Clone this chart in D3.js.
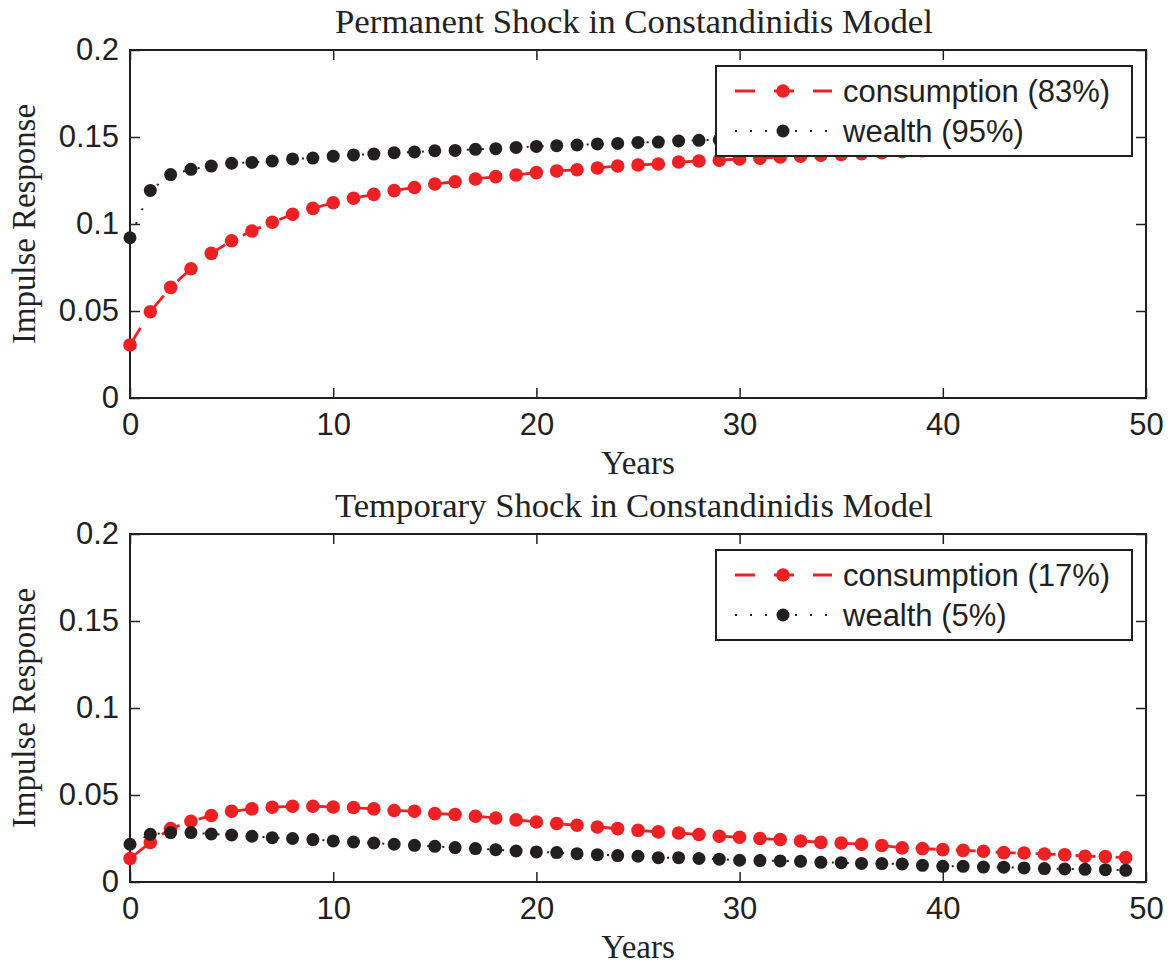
<!DOCTYPE html>
<html>
<head>
<meta charset="utf-8">
<script src="https://cdn.jsdelivr.net/npm/d3@7/dist/d3.min.js"></script>
<style>
  html, body { margin: 0; padding: 0; background: #fff; }
  svg { display: block; }
</style>
</head>
<body>
<script>
// ---------------- DATA ----------------
const years = [0,1,2,3,4,5,6,7,8,9,10,11,12,13,14,15,16,17,18,19,20,21,22,23,24,25,26,27,28,29,30,31,32,33,34,35,36,37,38,39,40,41,42,43,44,45,46,47,48,49];

const permConsumption = [0.0305,0.0496,0.0636,0.0743,0.0831,0.0904,0.0960,0.1010,0.1056,0.1090,
  0.1122,0.1148,0.1170,0.1192,0.1210,0.1230,0.1243,0.1259,0.1272,0.1282,
  0.1295,0.1305,0.1312,0.1322,0.1333,0.1339,0.1345,0.1356,0.1362,0.1367,
  0.1374,0.1378,0.1385,0.1390,0.1395,0.1400,0.1404,0.1410,0.1416,0.1421,
  0.1427,0.1432,0.1438,0.1443,0.1449,0.1454,0.1460,0.1465,0.1470,0.1475];

const permWealth = [0.0921,0.1193,0.1284,0.1314,0.1333,0.1349,0.1354,0.1362,0.1374,0.1379,
  0.1390,0.1397,0.1402,0.1410,0.1414,0.1421,0.1423,0.1429,0.1433,0.1440,
  0.1446,0.1450,0.1454,0.1460,0.1463,0.1469,0.1471,0.1477,0.1481,0.1484,
  0.1487,0.1490,0.1493,0.1496,0.1499,0.1502,0.1504,0.1507,0.1509,0.1511,
  0.1513,0.1515,0.1517,0.1519,0.1521,0.1523,0.1525,0.1527,0.1529,0.1531];

const tempConsumption = [0.0135,0.0227,0.0307,0.0349,0.0382,0.0407,0.0420,0.0430,0.0435,0.0435,
  0.0431,0.0428,0.0420,0.0411,0.0407,0.0393,0.0388,0.0378,0.0368,0.0357,
  0.0345,0.0336,0.0326,0.0316,0.0307,0.0297,0.0288,0.0282,0.0273,0.0263,
  0.0257,0.0250,0.0244,0.0236,0.0228,0.0224,0.0217,0.0210,0.0196,0.0192,
  0.0186,0.0182,0.0177,0.0169,0.0167,0.0161,0.0157,0.0148,0.0146,0.0140];

const tempWealth = [0.0217,0.0274,0.0284,0.0284,0.0276,0.0270,0.0263,0.0255,0.0250,0.0244,
  0.0236,0.0230,0.0224,0.0217,0.0211,0.0205,0.0198,0.0192,0.0186,0.0178,
  0.0173,0.0169,0.0163,0.0157,0.0152,0.0148,0.0140,0.0140,0.0135,0.0131,
  0.0125,0.0123,0.0121,0.0119,0.0113,0.0111,0.0107,0.0106,0.0104,0.0096,
  0.0090,0.0090,0.0086,0.0085,0.0081,0.0077,0.0075,0.0073,0.0071,0.0067];

const xTicks = [0,10,20,30,40,50];
const xTickLabels = ["0","10","20","30","40","50"];
const yTicks = [0,0.05,0.1,0.15,0.2];
const yTickLabels = ["0","0.05","0.1","0.15","0.2"];

const panelTitles = ["Permanent Shock in Constandinidis Model", "Temporary Shock in Constandinidis Model"];
const xLabel = "Years";
const yLabel = "Impulse Response";
const permLegend = ["consumption (83%)", "wealth (95%)"];
const tempLegend = ["consumption (17%)", "wealth (5%)"];

// ---------------- STYLE / LAYOUT ----------------
const W = 1172, H = 964;
const RED = "#ed2024", BLACK = "#231f20", AXIS = "#231f20";
const SANS = "'Liberation Sans', Arial, Helvetica, sans-serif";
const SERIF = "'Liberation Serif', 'Times New Roman', serif";

const svg = d3.select("body").append("svg").attr("width", W).attr("height", H);

const panels = [
  { top: 50, bottom: 398, cons: permConsumption, wealth: permWealth, title: panelTitles[0], legend: permLegend },
  { top: 534, bottom: 882, cons: tempConsumption, wealth: tempWealth, title: panelTitles[1], legend: tempLegend }
];
const left = 130, right = 1146;

panels.forEach(p => {
  const g = svg.append("g");
  const x = d3.scaleLinear().domain([0, 50]).range([left, right]);
  const y = d3.scaleLinear().domain([0, 0.2]).range([p.bottom, p.top]);

  const ax = (sel) => {
    sel.select(".domain").remove();
    sel.selectAll(".tick line").attr("stroke", AXIS).attr("stroke-width", 1.5);
    sel.selectAll(".tick text").attr("fill", AXIS).style("font-family", SANS).style("font-size", "31px");
  };
  g.append("g").attr("transform", `translate(0,${p.bottom})`)
    .call(d3.axisBottom(x).tickValues(xTicks).tickFormat((d, i) => xTickLabels[i]).tickSizeInner(-10).tickSizeOuter(0).tickPadding(15))
    .call(ax);
  g.append("g").attr("transform", `translate(0,${p.top})`)
    .call(d3.axisTop(x).tickValues(xTicks).tickFormat("").tickSizeInner(-10).tickSizeOuter(0))
    .call(ax);
  g.append("g").attr("transform", `translate(${left},0)`)
    .call(d3.axisLeft(y).tickValues(yTicks).tickFormat((d, i) => yTickLabels[i]).tickSizeInner(-10).tickSizeOuter(0).tickPadding(11))
    .call(ax);
  g.append("g").attr("transform", `translate(${right},0)`)
    .call(d3.axisRight(y).tickValues(yTicks).tickFormat("").tickSizeInner(-10).tickSizeOuter(0))
    .call(ax);

  g.append("rect").attr("x", left).attr("y", p.top).attr("width", right - left).attr("height", p.bottom - p.top)
    .attr("fill", "none").attr("stroke", AXIS).attr("stroke-width", 2);

  const line = d3.line().x((d, i) => x(years[i])).y(d => y(d));
  g.append("path").datum(p.cons).attr("d", line).attr("fill", "none")
    .attr("stroke", RED).attr("stroke-width", 2.8).attr("stroke-dasharray", "20,20");
  g.selectAll(null).data(p.cons).enter().append("circle")
    .attr("cx", (d, i) => x(years[i])).attr("cy", d => y(d)).attr("r", 6.8).attr("fill", RED);

  g.append("path").datum(p.wealth).attr("d", line).attr("fill", "none")
    .attr("stroke", BLACK).attr("stroke-width", 2).attr("stroke-dasharray", "2,13");
  g.selectAll(null).data(p.wealth).enter().append("circle")
    .attr("cx", (d, i) => x(years[i])).attr("cy", d => y(d)).attr("r", 6.5).attr("fill", BLACK);

  g.append("text").attr("x", (left + right) / 2 - 4).attr("y", p.top - 17).attr("text-anchor", "middle")
    .style("font-family", SERIF).style("font-size", "34px").attr("fill", "#222")
    .attr("textLength", 598).attr("lengthAdjust", "spacingAndGlyphs").text(p.title);
  g.append("text").attr("x", (left + right) / 2).attr("y", p.bottom + 76).attr("text-anchor", "middle")
    .style("font-family", SERIF).style("font-size", "33px").attr("fill", "#222").text(xLabel);
  const yc = (p.top + p.bottom) / 2;
  g.append("text").attr("transform", `translate(35,${yc}) rotate(-90)`).attr("text-anchor", "middle")
    .style("font-family", SERIF).style("font-size", "33px").attr("fill", "#222")
    .attr("textLength", 240).attr("lengthAdjust", "spacingAndGlyphs").text(yLabel);

  const lg = g.append("g").attr("transform", `translate(716,${p.top + 16})`);
  lg.append("rect").attr("x", 0).attr("y", 0).attr("width", 416).attr("height", 90)
    .attr("fill", "#fff").attr("stroke", AXIS).attr("stroke-width", 2);
  const rows = [
    { y: 25, color: RED, dash: "20,19", sw: 2.8, r: 6.8, label: p.legend[0] },
    { y: 65, color: BLACK, dash: "2,13", sw: 2, r: 6.5, label: p.legend[1] }
  ];
  rows.forEach(rw => {
    lg.append("line").attr("x1", 19).attr("x2", 116).attr("y1", rw.y).attr("y2", rw.y)
      .attr("stroke", rw.color).attr("stroke-width", rw.sw).attr("stroke-dasharray", rw.dash);
    lg.append("circle").attr("cx", 67).attr("cy", rw.y).attr("r", rw.r).attr("fill", rw.color);
    lg.append("text").attr("x", 127).attr("y", rw.y).attr("dy", "0.36em")
      .style("font-family", SANS).style("font-size", "31px").attr("fill", AXIS).text(rw.label);
  });
});
</script>
</body>
</html>
